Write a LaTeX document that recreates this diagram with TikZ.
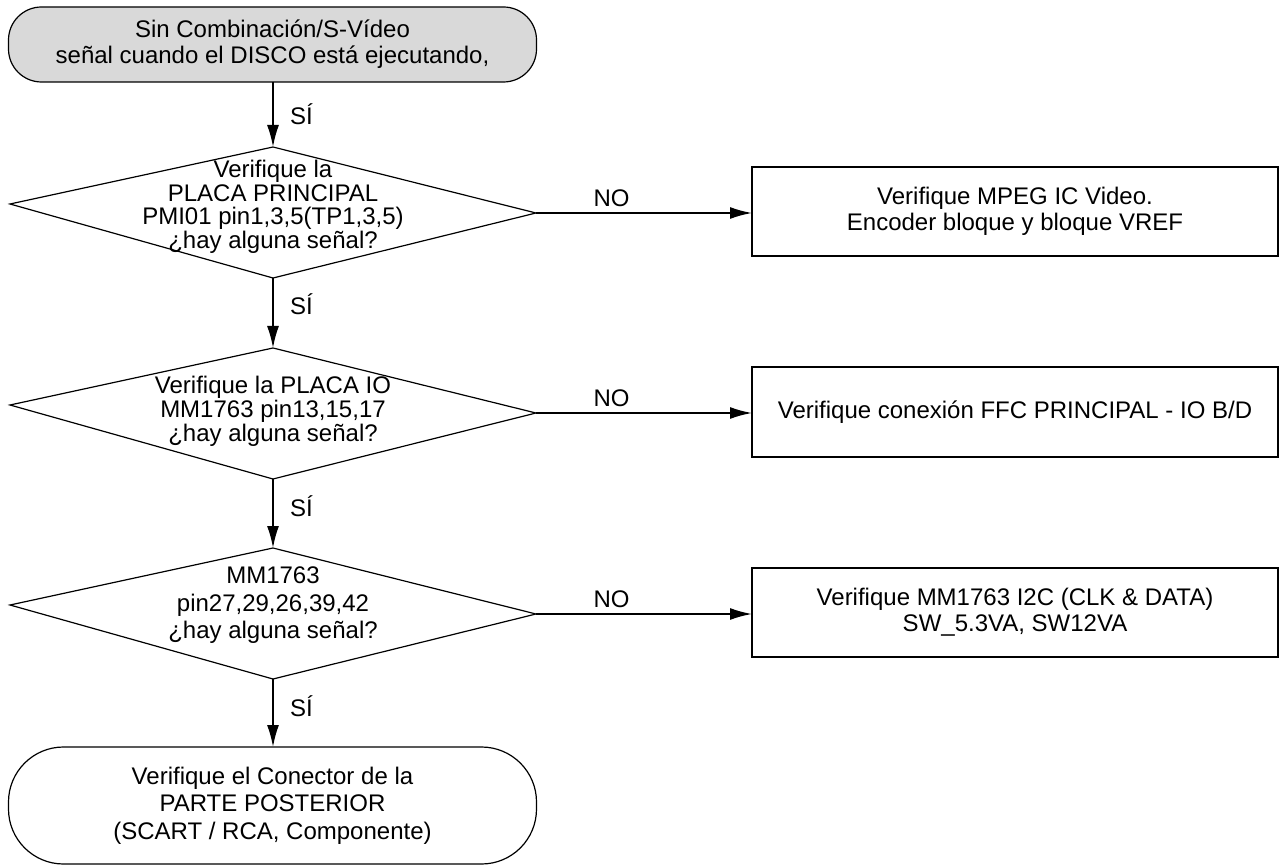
\documentclass[tikz,border=0pt]{standalone}
\usepackage{fontspec}
\setmainfont{Liberation Sans}
\usetikzlibrary{arrows.meta}
\definecolor{startgray}{gray}{0.85}
\begin{document}
\begin{tikzpicture}[x=1pt,y=-1pt,
  every node/.style={font=\fontsize{24}{26}\selectfont, inner sep=0pt, outer sep=0pt},
  shapeline/.style={draw=black, line width=1.2pt},
  flow/.style={draw=black, line width=1.8pt, -{Latex[length=22pt,width=12pt]}},
  terminal/.style={shapeline, align=center, minimum width=528pt},
  actionbox/.style={shapeline, align=center, minimum width=526pt, minimum height=89pt},
  qtext/.style={align=center},
  yeslbl/.style={right=17pt},
  nolbl/.style={above=6pt}
]
\useasboundingbox (0,0) rectangle (1279,866);

% start terminal
\node[terminal, fill=startgray, rounded corners=33pt, minimum height=75pt] (start) at (272.5,44.5)
  {Sin Combinación/S-Vídeo\\señal cuando el DISCO está ejecutando,};

% decision outlines
\coordinate (q1t) at (273,147); \coordinate (q1r) at (536,213);
\coordinate (q1b) at (273,278); \coordinate (q1l) at (10,204);
\coordinate (q2t) at (273,348); \coordinate (q2r) at (536,413);
\coordinate (q2b) at (273,479); \coordinate (q2l) at (10,405);
\coordinate (q3t) at (273,548); \coordinate (q3r) at (536,614);
\coordinate (q3b) at (273,679); \coordinate (q3l) at (10,605);
\draw[shapeline] (q1t) -- (q1r) -- (q1b) -- (q1l) -- cycle;
\draw[shapeline] (q2t) -- (q2r) -- (q2b) -- (q2l) -- cycle;
\draw[shapeline] (q3t) -- (q3r) -- (q3b) -- (q3l) -- cycle;

% decision texts
\node[qtext, font=\fontsize{24}{23.5}\selectfont] (q1) at (273,207)
  {Verifique la\\PLACA PRINCIPAL\\PMI01 pin1,3,5(TP1,3,5)\\¿hay alguna señal?};
\node[qtext, font=\fontsize{24}{24}\selectfont] (q2) at (273,411)
  {Verifique la PLACA IO\\MM1763 pin13,15,17\\¿hay alguna señal?};
\node[qtext, font=\fontsize{24}{27.5}\selectfont] (q3) at (273,605.5)
  {MM1763\\pin27,29,26,39,42\\¿hay alguna señal?};

% action boxes
\node[actionbox] (a1) at (1015,211.5) {Verifique MPEG IC Video.\\Encoder bloque y bloque VREF};
\node[actionbox, minimum height=90pt] (a2) at (1015,412) {Verifique conexión FFC PRINCIPAL - IO B/D};
\node[actionbox] (a3) at (1015,612.5) {Verifique MM1763 I2C (CLK \& DATA)\\SW\_5.3VA, SW12VA};

% end terminal
\node[terminal, rounded corners=55pt, minimum height=117pt, font=\fontsize{24}{27.5}\selectfont] (finish) at (272.5,805.5)
  {Verifique el Conector de la\\PARTE POSTERIOR\\(SCART / RCA, Componente)};

% yes connectors
\draw[flow] (start.south -| q1t) -- node[pos=0.5, yeslbl] {SÍ} (q1t);
\draw[flow] (q1b) -- node[pos=0.38, yeslbl] {SÍ} (q2t);
\draw[flow] (q2b) -- node[pos=0.40, yeslbl] {SÍ} (q3t);
\draw[flow] (q3b) -- node[pos=0.40, yeslbl] {SÍ} (finish.north -| q3b);

% no connectors
\draw[flow] (q1r) -- node[pos=0.35, nolbl] {NO} (q1r -| a1.west);
\draw[flow] (q2r) -- node[pos=0.35, nolbl] {NO} (q2r -| a2.west);
\draw[flow] (q3r) -- node[pos=0.35, nolbl] {NO} (q3r -| a3.west);
\end{tikzpicture}
\end{document}
